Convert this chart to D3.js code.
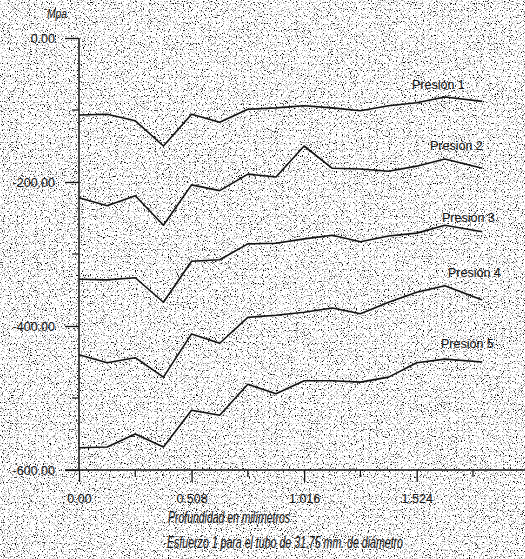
<!DOCTYPE html>
<html>
<head>
<meta charset="utf-8">
<script src="https://cdn.jsdelivr.net/npm/d3@7"></script>
<style>
  html, body { margin: 0; padding: 0; background: #fff; }
  svg { display: block; }
</style>
</head>
<body>
<svg id="chart" width="525" height="559"></svg>
<script>
"use strict";

// depth positions (mm)
const depths = [0, 0.127, 0.254, 0.381, 0.508, 0.635, 0.762, 0.889,
  1.016, 1.143, 1.27, 1.397, 1.524, 1.651, 1.82];

// stress values (MPa)
const presion1 = [-107, -106, -115, -150, -106, -117, -99, -97, -94, -97, -101, -94, -90, -82, -88];
const presion2 = [-222, -233, -219, -260, -204, -212, -189, -193, -150, -181, -182, -185, -178, -168, -181];
const presion3 = [-335, -336, -333, -367, -310, -308, -286, -285, -279, -274, -283, -275, -271, -260, -269];
const presion4 = [-440, -451, -444, -471, -411, -424, -388, -385, -381, -375, -383, -367, -353, -344, -364];
const presion5 = [-569, -568, -550, -568, -517, -524, -481, -494, -476, -476, -478, -471, -451, -446, -450];

const seriesNames = ["Presión 1", "Presión 2", "Presión 3", "Presión 4", "Presión 5"];
const seriesValues = [presion1, presion2, presion3, presion4, presion5];

const xMajorTicks = [0, 0.508, 1.016, 1.524];
const xMinorTicks = [0.254, 0.762, 1.27, 1.778];
const xTickLabels = ["0.00", "0.508", "1.016", "1.524"];
const yMajorTicks = [0, -200, -400, -600];
const yMinorTicks = [-100, -300, -500];
const yTickLabels = ["0.00", "-200.00", "-400.00", "-600.00"];

const svg = d3.select("#chart");

// === scales ===
const x = d3.scaleLinear().domain([0, 1.524]).range([79, 416.7]);
const y = d3.scaleLinear().domain([-600, 0]).range([470, 38]);

// === speckled scan background ===
const defs = svg.append("defs");
const flt = defs.append("filter").attr("id", "speckle")
  .attr("x", 0).attr("y", 0).attr("width", "100%").attr("height", "100%")
  .attr("color-interpolation-filters", "sRGB");
flt.append("feTurbulence").attr("type", "fractalNoise")
  .attr("baseFrequency", 0.85).attr("numOctaves", 2).attr("seed", 7);
flt.append("feColorMatrix").attr("type", "matrix")
  .attr("values", "0 0 0 0 0  0 0 0 0 0  0 0 0 0 0  1.6 0 0 0 -0.3");
flt.append("feComponentTransfer").append("feFuncA")
  .attr("type", "discrete").attr("tableValues", "0 0 0 0 0 0 0.15 0.4 0.75 1");

svg.append("rect").attr("width", 525).attr("height", 559).attr("fill", "#fff");
svg.append("rect").attr("width", 525).attr("height", 559)
  .attr("fill", "#000").attr("filter", "url(#speckle)");

const ink = "#111";
const font = "'Liberation Sans', Arial, sans-serif";
const narrow = "'Liberation Sans Narrow', 'Arial Narrow', 'Liberation Sans', sans-serif";

// === axes ===
const xAxis = svg.append("g").attr("transform", "translate(0,470)")
  .call(d3.axisBottom(x).tickValues(xMajorTicks).tickSize(12)
    .tickFormat((d, i) => xTickLabels[i]));
xAxis.select(".domain").remove();
xAxis.selectAll(".tick line").attr("stroke", ink).attr("stroke-width", 1.3);
xAxis.selectAll(".tick text").attr("y", 24).attr("dy", "0.71em")
  .attr("font-family", font).attr("font-size", 12.5).attr("fill", ink);

svg.append("g").selectAll("line").data(xMinorTicks).join("line")
  .attr("x1", d => x(d)).attr("x2", d => x(d))
  .attr("y1", 470).attr("y2", 477)
  .attr("stroke", ink).attr("stroke-width", 1.2);

const yAxis = svg.append("g").attr("transform", "translate(79,0)")
  .call(d3.axisLeft(y).tickValues(yMajorTicks).tickSize(14)
    .tickFormat((d, i) => yTickLabels[i]));
yAxis.select(".domain").remove();
yAxis.selectAll(".tick line").attr("stroke", ink).attr("stroke-width", 1.3);
yAxis.selectAll(".tick text").attr("x", -24)
  .attr("font-family", font).attr("font-size", 12.5).attr("fill", ink);

svg.append("g").selectAll("line").data(yMinorTicks).join("line")
  .attr("x1", 72).attr("x2", 79)
  .attr("y1", d => y(d)).attr("y2", d => y(d))
  .attr("stroke", ink).attr("stroke-width", 1.2);

// axis lines
svg.append("line").attr("x1", 79).attr("x2", 79)
  .attr("y1", y(0)).attr("y2", y(-600))
  .attr("stroke", ink).attr("stroke-width", 1.5);
svg.append("line").attr("x1", 65).attr("x2", 525)
  .attr("y1", y(-600)).attr("y2", y(-600))
  .attr("stroke", ink).attr("stroke-width", 1.5);

// === series lines ===
const line = d3.line().x((d, i) => x(depths[i])).y(d => y(d));
svg.append("g").selectAll("path").data(seriesValues).join("path")
  .attr("d", line)
  .attr("fill", "none")
  .attr("stroke", ink)
  .attr("stroke-width", 1.6)
  .attr("stroke-linejoin", "round");

// series labels
const labelPos = [[412, 89], [430, 150], [442, 222], [448, 277], [441, 348]];
svg.append("g").selectAll("text").data(seriesNames).join("text")
  .attr("x", (d, i) => labelPos[i][0])
  .attr("y", (d, i) => labelPos[i][1])
  .attr("font-family", font).attr("font-size", 12.5).attr("fill", ink)
  .text(d => d);

// === titles ===
svg.append("text").attr("x", 47).attr("y", 18)
  .attr("font-family", narrow).attr("font-style", "italic")
  .attr("font-size", 13.5).attr("fill", ink)
  .attr("textLength", 20).attr("lengthAdjust", "spacingAndGlyphs")
  .text("Mpa");

svg.append("text").attr("x", 168).attr("y", 523)
  .attr("font-family", narrow).attr("font-style", "italic")
  .attr("font-size", 16).attr("fill", ink)
  .attr("textLength", 122).attr("lengthAdjust", "spacingAndGlyphs")
  .text("Profundidad en milímetros");

svg.append("text").attr("x", 167).attr("y", 548)
  .attr("font-family", narrow).attr("font-style", "italic")
  .attr("font-size", 16).attr("fill", ink)
  .attr("textLength", 236).attr("lengthAdjust", "spacingAndGlyphs")
  .text("Esfuerzo 1 para el tubo de 31.75 mm. de diámetro");
</script>
</body>
</html>
